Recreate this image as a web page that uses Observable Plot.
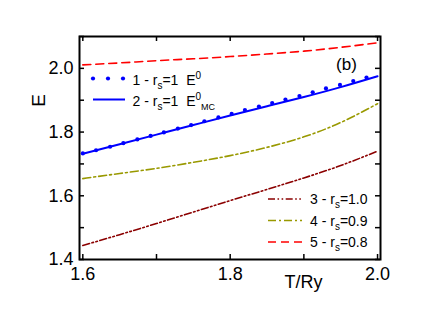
<!DOCTYPE html>
<html><head><meta charset="utf-8">
<script src="https://cdn.jsdelivr.net/npm/d3@7"></script>
<script src="https://cdn.jsdelivr.net/npm/@observablehq/plot@0.6"></script>
<style>
body{margin:0;background:#fff}
svg{font-family:"Liberation Sans",Arial,sans-serif}
</style>
</head><body><div id="chart"></div>
<script>
// ---- data ----
const T = [1.60, 1.65, 1.70, 1.75, 1.80, 1.85, 1.90, 1.95, 2.00];
const E2_mc   = [1.732, 1.762, 1.792, 1.822, 1.852, 1.881, 1.910, 1.941, 1.975]; // 2 - rs=1 E0_MC
const E3_rs10 = [1.444, 1.478, 1.513, 1.549, 1.585, 1.620, 1.656, 1.695, 1.740]; // 3 - rs=1.0
const E4_rs09 = [1.654, 1.670, 1.686, 1.705, 1.726, 1.752, 1.785, 1.830, 1.889]; // 4 - rs=0.9
const E5_rs08 = [2.011, 2.017, 2.024, 2.030, 2.037, 2.045, 2.054, 2.066, 2.080]; // 5 - rs=0.8
const dotT = [1.600, 1.618, 1.637, 1.655, 1.674, 1.692, 1.710, 1.729, 1.747, 1.765, 1.784,
              1.802, 1.820, 1.839, 1.857, 1.875, 1.894, 1.912, 1.930, 1.949, 1.967, 1.985];
const dotE = [1.733, 1.743, 1.754, 1.765, 1.777, 1.788, 1.799, 1.811, 1.822, 1.834, 1.846,
              1.857, 1.869, 1.880, 1.891, 1.902, 1.913, 1.925, 1.937, 1.948, 1.960, 1.971]; // 1 - rs=1 E0
const xMajor = [1.6, 1.8, 2.0];
const xMinor = [1.7, 1.9];
const yMajor = [1.4, 1.6, 1.8, 2.0];
const yMinor = [1.5, 1.7, 1.9, 2.1];
const xDomain = [1.5955, 2.004];
const yDomain = [1.4, 2.1];

// ---- styles ----
const C = {blue:"#0000ff", red:"#ff0000", olive:"#999900", dred:"#8b0000"};
const DASH = {red:"8,5", olive:"8,3,2,3", dred:"7,2.5,1.6,2.5,1.6,2.5"};

const W = 442, H = 312, mL = 79, mR = 62, mT = 36, mB = 53;
const fw = W - mL - mR, fh = H - mT - mB;
const rows = (ys) => T.map((t, i) => ({t, e: ys[i]}));
const dots = dotT.map((t, i) => ({t, e: dotE[i]}));
const xTicks = [...xMajor, ...xMinor];
const yTicks = [...yMajor, ...yMinor];
const fmt = d => d.toFixed(1);
const TXT = {textAnchor: "middle", lineAnchor: "middle", fill: "black"};

const svg = Plot.plot({
  width: W, height: H,
  marginLeft: mL, marginRight: mR, marginTop: mT, marginBottom: mB,
  style: {fontFamily: '"Liberation Sans", Arial, sans-serif', background: "white", color: "black"},
  x: {domain: xDomain},
  y: {domain: yDomain},
  marks: [
    Plot.line(rows(E5_rs08), {x: "t", y: "e", stroke: C.red, strokeWidth: 1.6, strokeDasharray: DASH.red, curve: "natural"}),
    Plot.line(rows(E4_rs09), {x: "t", y: "e", stroke: C.olive, strokeWidth: 1.6, strokeDasharray: DASH.olive, curve: "natural"}),
    Plot.line(rows(E3_rs10), {x: "t", y: "e", stroke: C.dred, strokeWidth: 1.6, strokeDasharray: DASH.dred, curve: "natural"}),
    Plot.line(rows(E2_mc), {x: "t", y: "e", stroke: C.blue, strokeWidth: 2, curve: "natural"}),
    Plot.dot(dots, {x: "t", y: "e", r: 2.1, fill: C.blue, stroke: "none"}),
    Plot.frame({stroke: "black", strokeWidth: 2}),
    Plot.tickX(xTicks, {x: d => d, insetTop: fh - 5, stroke: "black", strokeWidth: 1.5}),
    Plot.tickX(xTicks, {x: d => d, insetBottom: fh - 5, stroke: "black", strokeWidth: 1.5}),
    Plot.tickY(yTicks, {y: d => d, insetRight: fw - 5, stroke: "black", strokeWidth: 1.5}),
    Plot.tickY(yTicks, {y: d => d, insetLeft: fw - 5, stroke: "black", strokeWidth: 1.5}),
    Plot.axisX(xMajor, {tickSize: 0, tickPadding: 8, fontSize: 18, tickFormat: fmt, label: null}),
    Plot.axisY(yMajor, {tickSize: 0, tickPadding: 6, fontSize: 18, tickFormat: fmt, label: null}),
    Plot.text(["E"], {...TXT, frameAnchor: "top-left", dx: -41, dy: 64, rotate: -90, fontSize: 19}),
    Plot.text(["T/Ry"], {...TXT, frameAnchor: "bottom-left", dx: 224, dy: 23, fontSize: 18}),
    Plot.text(["(b)"], {...TXT, frameAnchor: "top-left", dx: 267, dy: 28, fontSize: 17})
  ]
});
document.getElementById("chart").appendChild(svg);

// ---- legends (drawn in frame-relative pixels) ----
const s = d3.select(svg);
const lg = s.append("g").attr("font-size", 14).attr("fill", "black").attr("text-anchor", "start");
function rich(x, y, parts) {
  const t = lg.append("text").attr("x", x).attr("y", y).attr("text-anchor", "start").style("white-space", "pre");
  let cur = 0;
  for (const [str, kind] of parts) {
    const shift = kind === "sub" ? 4 : kind === "sup" ? -6 : 0;
    const ts = t.append("tspan").attr("dy", shift - cur).text(str);
    if (kind) ts.attr("font-size", kind === "sub" && str === "MC" ? 9 : 10);
    cur = shift;
  }
}
// top-left legend
[93, 108, 123].forEach(cx => lg.append("circle").attr("cx", cx).attr("cy", 78.5).attr("r", 2.1).attr("fill", C.blue));
rich(132.5, 84.5, [["1 - r", null], ["s", "sub"], ["=1  E", null], ["0", "sup"]]);
lg.append("line").attr("x1", 93).attr("x2", 125).attr("y1", 99.5).attr("y2", 99.5).attr("stroke", C.blue).attr("stroke-width", 2);
rich(132.5, 106, [["2 - r", null], ["s", "sub"], ["=1  E", null], ["0", "sup"], ["MC", "sub"]]);
// bottom-right legend
const items = [
  {c: C.dred, d: DASH.dred, y: 199, p: [["3 - r", null], ["s", "sub"], ["=1.0", null]]},
  {c: C.olive, d: DASH.olive, y: 220.5, p: [["4 - r", null], ["s", "sub"], ["=0.9", null]]},
  {c: C.red, d: DASH.red, y: 242, p: [["5 - r", null], ["s", "sub"], ["=0.8", null]]}
];
for (const it of items) {
  lg.append("line").attr("x1", 268).attr("x2", 302).attr("y1", it.y).attr("y2", it.y)
    .attr("stroke", it.c).attr("stroke-width", 1.6).attr("stroke-dasharray", it.d);
  rich(310, it.y + 5, it.p);
}
</script>
</body></html>
